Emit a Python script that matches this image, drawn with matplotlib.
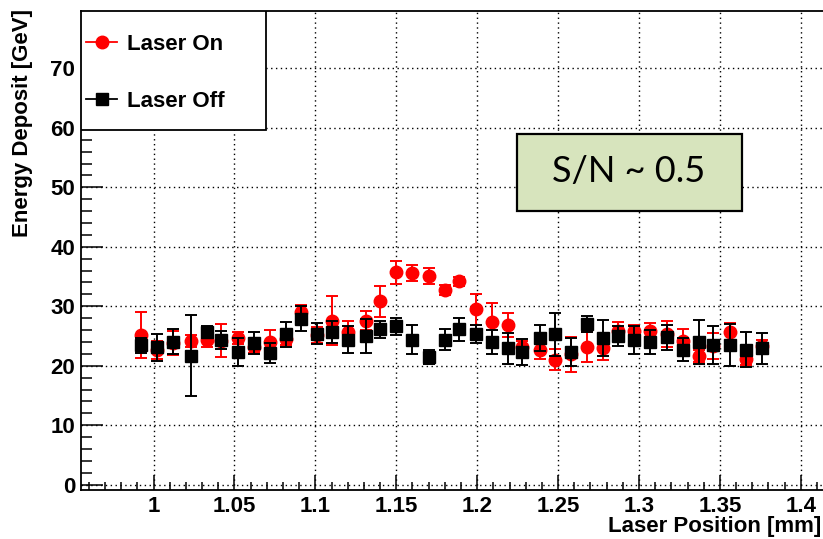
import matplotlib
matplotlib.use('Agg')
import matplotlib.pyplot as plt
from matplotlib.lines import Line2D
from matplotlib.patches import Rectangle
from matplotlib.ticker import MultipleLocator

plt.rcParams['font.family'] = ['Liberation Sans', 'DejaVu Sans']

# laser position of each scan step [mm]
x_pos = [0.992, 1.002, 1.012, 1.023, 1.033, 1.042, 1.052, 1.062, 1.072, 1.082,
         1.091, 1.101, 1.110, 1.120, 1.131, 1.140, 1.150, 1.160, 1.170, 1.180,
         1.189, 1.199, 1.209, 1.219, 1.228, 1.239, 1.248, 1.258, 1.268, 1.278,
         1.287, 1.297, 1.307, 1.317, 1.327, 1.337, 1.346, 1.356, 1.366, 1.376]

on_val = [25.2, 22.6, 23.8, 24.2, 24.4, 24.2, 24.7, 23.2, 24.0, 24.5,
          29.0, 25.2, 27.6, 25.7, 27.6, 30.8, 35.7, 35.6, 35.1, 32.7,
          34.2, 29.5, 27.3, 26.8, 23.2, 22.7, 21.0, 21.9, 23.1, 22.9,
          25.8, 25.9, 25.9, 25.4, 24.2, 21.6, 23.3, 25.7, 21.2, 23.3]
on_err = [3.9, 1.5, 2.0, 1.0, 1.2, 2.8, 1.0, 1.0, 2.0, 1.0,
          1.2, 1.3, 4.2, 1.8, 1.6, 2.6, 1.95, 1.4, 1.3, 0.8,
          0.8, 2.6, 3.3, 2.0, 1.0, 1.6, 1.8, 2.9, 2.5, 1.9,
          1.5, 1.0, 1.2, 2.2, 1.9, 1.0, 2.2, 1.5, 1.0, 1.0]

off_val = [23.4, 23.1, 24.0, 21.7, 25.7, 24.3, 22.3, 23.8, 22.2, 25.3,
           27.9, 25.4, 25.7, 24.4, 25.0, 26.1, 26.6, 24.4, 21.5, 24.4,
           26.1, 25.3, 24.0, 22.9, 22.3, 24.7, 25.3, 22.3, 27.0, 24.7,
           25.0, 24.3, 24.0, 24.8, 22.7, 24.0, 23.5, 23.5, 22.7, 22.9]
off_err = [1.2, 2.3, 2.1, 6.8, 1.0, 1.5, 2.3, 1.8, 1.7, 2.1,
           2.1, 1.7, 1.8, 2.2, 2.8, 1.5, 1.5, 2.4, 1.2, 1.7,
           2.0, 1.5, 2.0, 2.6, 2.2, 2.2, 3.6, 2.4, 1.4, 3.0,
           1.7, 2.3, 2.0, 2.1, 1.95, 3.7, 3.2, 3.5, 2.95, 2.6]

x_ticks = [1.0, 1.05, 1.1, 1.15, 1.2, 1.25, 1.3, 1.35, 1.4]
x_labels = ['1', '1.05', '1.1', '1.15', '1.2', '1.25', '1.3', '1.35', '1.4']

W, H = 823, 539
fig = plt.figure(figsize=(W / 100, H / 100), dpi=100)
ax = fig.add_axes([80.7 / W, 1 - 490 / H, 1 - 80.7 / W, (490 - 10.7) / H])

ax.errorbar(x_pos, on_val, yerr=on_err, fmt='o', color='red', ms=9,
            elinewidth=1.4, capsize=4.5, capthick=1.4, zorder=3)
ax.errorbar(x_pos, off_val, yerr=off_err, fmt='s', color='black', ms=8.5,
            elinewidth=1.4, capsize=4.5, capthick=1.4, zorder=4)

ax.set_xlim(0.955, 1.4137)
ax.set_ylim(-0.9, 79.7)
ax.set_xticks(x_ticks)
ax.set_xticklabels(x_labels)
ax.xaxis.set_minor_locator(MultipleLocator(0.01))
ax.yaxis.set_major_locator(MultipleLocator(10))
ax.yaxis.set_minor_locator(MultipleLocator(2))
ax.tick_params(axis='x', which='major', direction='in', length=11, width=1.1,
               labelsize=16, pad=4)
ax.tick_params(axis='x', which='minor', direction='in', length=5.5, width=1.1)
ax.tick_params(axis='y', which='major', direction='in', length=16, width=1.1,
               labelsize=16, pad=4)
ax.tick_params(axis='y', which='minor', direction='in', length=8, width=1.1)
for lab in ax.get_xticklabels() + ax.get_yticklabels():
    lab.set_fontweight('bold')

ax.grid(True, which='major', color='black', linestyle=(0, (1, 2.5)), linewidth=1.0)
ax.set_axisbelow(True)
ax.spines['right'].set_visible(False)
for s in ['left', 'bottom', 'top']:
    ax.spines[s].set_linewidth(1.3)

fig.text(821 / W, 1 - 532 / H, 'Laser Position [mm]', ha='right', va='baseline',
         fontsize=16, fontweight='bold')
fig.text(23 / W, 1 - 9 / H, 'Energy Deposit [GeV]', ha='center', va='top',
         rotation=90, fontsize=16, fontweight='bold')

# legend box
ax.add_patch(Rectangle((80.7 / W, 1 - 130 / H), (266 - 80.7) / W, (130 - 10.7) / H,
                       transform=fig.transFigure, facecolor='white', edgecolor='black',
                       linewidth=1.3, zorder=6))
handles = [Line2D([], [], color='red', marker='o', ms=9, lw=1.3),
           Line2D([], [], color='black', marker='s', ms=8.5, lw=1.3)]
leg = ax.legend(handles, ['Laser On', 'Laser Off'], loc='upper left',
                bbox_to_anchor=(75 / W, 1 - 23 / H), bbox_transform=fig.transFigure,
                frameon=False, borderpad=0, handlelength=1.4, handletextpad=0.45,
                labelspacing=1.6, prop={'size': 16, 'weight': 'bold'})
leg.set_zorder(7)

# S/N annotation box
ax.add_patch(Rectangle((517 / W, 1 - 211 / H), (742 - 517) / W, (211 - 134) / H,
                       transform=fig.transFigure, facecolor='#d7e4bd', edgecolor='black',
                       linewidth=1.6, zorder=6))
fig.text(629 / W, 1 - 172 / H, 'S/N ~ 0.5', ha='center', va='center',
         fontsize=26, family=['Lato', 'DejaVu Sans'], zorder=8)

fig.savefig('out.png', dpi=100)
